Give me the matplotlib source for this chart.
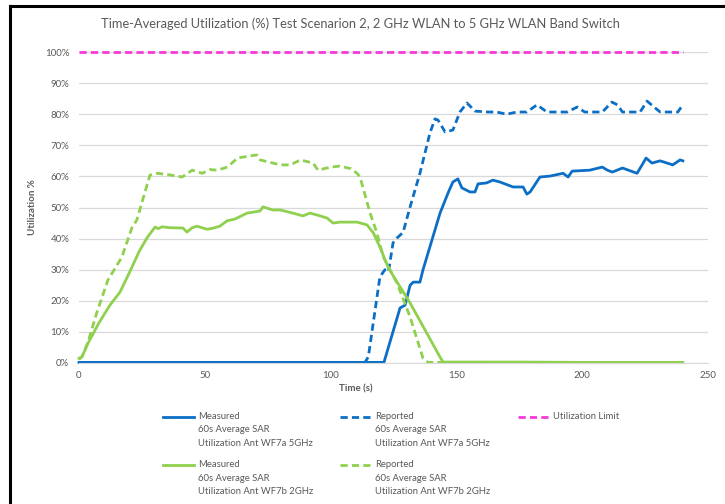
import matplotlib
matplotlib.use("Agg")
import matplotlib.pyplot as plt
from matplotlib.lines import Line2D
from matplotlib.legend_handler import HandlerLine2D
from matplotlib.ticker import FuncFormatter

plt.rcParams['font.family'] = ['Lato', 'DejaVu Sans']

# ---- data ----
t_blue_meas = [0, 121.2, 127.6, 129.6, 131.6, 132.8, 135.5, 136.7, 143.5, 146.7, 148.6, 150.6, 152.2,
               155.4, 157.4, 158.6, 162, 164.5, 167.3, 172.5, 176.5, 178, 179.3, 183.2, 187.2, 192.4,
               194.4, 196, 203, 208, 210, 212, 216, 221.8, 223.8, 225.4, 227.7, 231, 236, 238.9, 240]
y_blue_meas = [0.2, 0.2, 17.7, 18.6, 25, 26, 26, 29.9, 48.2, 54.7, 58.2, 59.2, 56.3,
               55, 55, 57.6, 57.9, 58.8, 58.2, 56.6, 56.6, 54.3, 55, 59.8, 60.1, 61,
               59.8, 61.7, 62, 63, 62, 61.4, 62.7, 61, 63.7, 65.9, 64.3, 65, 63.7, 65.3, 65]

t_blue_rep = [0, 113.7, 115, 119.6, 121.6, 123, 124.8, 126.4, 128.8, 131.6, 135.5, 139.5, 141.5,
              142.7, 145.5, 148.6, 151.4, 154.2, 157.4, 162.6, 166, 170, 174, 178, 182, 186, 190,
              194, 198, 201, 204.3, 208, 211.8, 214, 216, 220, 223, 225.8, 229, 231, 235, 238, 240]
y_blue_rep = [0.2, 0.2, 2, 27.7, 30, 29.3, 38.6, 40.2, 42, 50.2, 61, 74, 78.5,
              78.1, 74.3, 74.9, 80.7, 83.6, 81, 80.7, 80.7, 80, 80.7, 80.7, 83, 80.7, 80.7,
              80.7, 82.3, 80.7, 80.7, 80.7, 83.9, 83, 80.7, 80.7, 80.7, 84.2, 82, 80.7, 80.7, 80.7, 83]

t_green_meas = [0, 1.2, 3.6, 8, 12.3, 16.3, 20, 24, 27, 30.2, 31.5, 33, 36, 41.3, 42.9, 45, 46.9,
                50.9, 53, 56, 58.8, 62, 66.8, 70, 72, 73.1, 77.1, 80, 85, 89, 91.8, 95, 98.6, 101,
                103.7, 110.5, 114.5, 117, 119.6, 123, 131.6, 143.5, 144.7, 160, 175, 200, 240]
y_green_meas = [1.5, 2, 6.4, 13, 18.6, 22.8, 29, 36, 40.2, 43.7, 43.2, 43.8, 43.5, 43.4, 42.1, 43.5, 44,
                43, 43.3, 44, 45.7, 46.3, 48.2, 48.6, 48.9, 50.2, 49.2, 49.2, 48.2, 47.3, 48.2, 47.5, 46.6, 45,
                45.3, 45.3, 44.4, 41.8, 37.3, 30.5, 19.3, 1.9, 0.3, 0.3, 0.3, 0.2, 0.2]

t_green_rep = [0, 1.2, 3.6, 7, 11.5, 14, 17, 21, 23, 25.5, 28.2, 31, 35, 39, 41, 45, 49, 52, 55,
               59, 63, 68, 70.7, 72, 76, 80, 84, 88, 93, 95, 100, 103.7, 108, 110.5, 111.7, 115.7,
               118.4, 121, 126.4, 131.6, 136.7, 138.7, 160, 200, 240]
y_green_rep = [1.2, 2, 6.8, 16, 26.7, 30, 34, 43.4, 46, 53, 60.4, 61, 60.6, 60.1, 59.8, 62, 61, 62.2, 62,
               63, 65.9, 66.6, 66.9, 65.3, 64.5, 63.7, 63.7, 65.3, 64.3, 62, 63, 63.3, 62.5, 61, 59.8, 48.2,
               41.8, 34, 25.7, 14.8, 1.6, 0.2, 0.2, 0.1, 0.1]

t_limit = [0, 240]
y_limit = [100, 100]

labels = ["Measured\n60s Average SAR\nUtilization Ant WF7a 5GHz",
          "Reported\n60s Average SAR\nUtilization Ant WF7a 5GHz",
          "Utilization Limit\n \n ",
          "Measured\n60s Average SAR\nUtilization Ant WF7b 2GHz",
          "Reported\n60s Average SAR\nUtilization Ant WF7b 2GHz"]

title = "Time-Averaged Utilization (%) Test Scenarion 2, 2 GHz WLAN to 5 GHz WLAN Band Switch"

BLUE = "#0B6FC6"
GREEN = "#8FD04E"
MAGENTA = "#F53AD8"
GRAY = "#595959"
GRID = "#D9D9D9"

W, H = 725, 504
fig = plt.figure(figsize=(W / 100, H / 100), dpi=100)
ax = fig.add_axes([79 / W, 1 - 363 / H, (708 - 79) / W, (363 - 52) / H])

lw = 2.0
dash = (2.6, 1.5)
l1, = ax.plot(t_blue_meas, y_blue_meas, color=BLUE, lw=lw, clip_on=False, solid_joinstyle='round')
l2, = ax.plot(t_blue_rep, y_blue_rep, color=BLUE, lw=lw, dashes=dash, clip_on=False)
l3, = ax.plot(t_limit, y_limit, color=MAGENTA, lw=lw, dashes=dash, clip_on=False)
l4, = ax.plot(t_green_meas, y_green_meas, color=GREEN, lw=lw, clip_on=False, solid_joinstyle='round')
l5, = ax.plot(t_green_rep, y_green_rep, color=GREEN, lw=lw, dashes=dash, clip_on=False)

ax.set_xlim(0, 250)
ax.set_ylim(0, 100)
ax.set_xticks(range(0, 251, 50))
ax.set_yticks(range(0, 101, 10))
ax.yaxis.set_major_formatter(FuncFormatter(lambda v, p: f"{v:.0f}%"))
ax.grid(axis='y', color=GRID, lw=0.9)
ax.set_axisbelow(True)
for s in ['left', 'right', 'top']:
    ax.spines[s].set_visible(False)
ax.spines['bottom'].set_color(GRID)
ax.tick_params(length=0, colors=GRAY, labelsize=7)
ax.tick_params(axis='y', pad=7)
ax.tick_params(axis='x', pad=6)

ax.set_xlabel("Time (s)", fontsize=7, color=GRAY, fontweight='bold')
ax.xaxis.set_label_coords((356 - 79) / (708 - 79), -0.068)
ax.set_ylabel("Utilization %", fontsize=7, color=GRAY, fontweight='bold')
ax.yaxis.set_label_coords(-(79 - 37) / (708 - 79), 0.5)

fig.text(360 / W, 1 - 24 / H, title, ha='center', va='center', fontsize=9.3, color=GRAY)

FS = 6.8
LS = 1.64
LINE_PT = 9.6  # legend text line pitch in points


class FirstLineHandler(HandlerLine2D):
    def create_artists(self, legend, orig_handle, xdescent, ydescent, width, height, fontsize, trans):
        arts = super().create_artists(legend, orig_handle, xdescent, ydescent, width, height, fontsize, trans)
        for a in arts:
            if isinstance(a, Line2D):
                a.set_ydata([y + LINE_PT for y in a.get_ydata()])
        return arts


handles = [l1, l4, l2, l5, l3]
hl = [labels[0], labels[3], labels[1], labels[4], labels[2]]
hmap = {h: FirstLineHandler() for h in handles}
leg = fig.legend(handles, hl, ncol=3, loc='upper left', bbox_to_anchor=(163 / W, 1 - 412 / H),
                 frameon=False, fontsize=FS, handlelength=3.3, handletextpad=0.42,
                 columnspacing=2.85, labelspacing=1.32, labelcolor=GRAY, handler_map=hmap,
                 borderpad=0, borderaxespad=0)
for tx in leg.get_texts():
    tx.set_linespacing(LS)

# frame lines of the reference image (left and top edges)
fig.add_artist(Line2D([10 / W, 10 / W], [0, 1 - 6 / H], color='black', lw=2.2, transform=fig.transFigure))
fig.add_artist(Line2D([10 / W, 1], [1 - 6 / H, 1 - 6 / H], color='black', lw=2.2, transform=fig.transFigure))

fig.savefig("out.png", dpi=100)
